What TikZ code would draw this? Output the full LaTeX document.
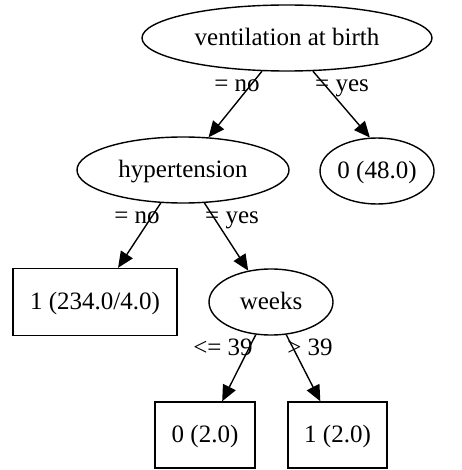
\documentclass[tikz,border=0pt]{standalone}
\usepackage{fontspec}
\setmainfont{Liberation Serif}
\usetikzlibrary{shapes.geometric,arrows.meta}
\begin{document}
\begin{tikzpicture}[x=1pt,y=-1pt,
  every node/.style={font=\fontsize{25}{30}\selectfont, text height=19pt, text depth=4pt, inner sep=0pt},
  ell/.style={draw, ellipse, line width=1.4pt},
  leaf/.style={draw, rectangle, line width=1.4pt},
  lbl/.style={},
  edge/.style={line width=1.4pt, -{Triangle[length=16pt,width=14pt]}}]
\useasboundingbox (0,0) rectangle (461,470);
\node[ell, minimum width=290pt, minimum height=66pt] (root) at (287,38) {ventilation at birth};
\node[ell, minimum width=212pt, minimum height=66pt] (hyp) at (183,170) {hypertension};
\node[ell, minimum width=114pt, minimum height=66pt] (z48) at (377,171) {0 (48.0)};
\node[leaf, minimum width=164pt, minimum height=67pt] (b1) at (95,302) {1 (234.0/4.0)};
\node[ell, minimum width=124pt, minimum height=66pt] (weeks) at (271,302) {weeks};
\node[leaf, minimum width=100pt, minimum height=66pt] (b0a) at (205,435) {0 (2.0)};
\node[leaf, minimum width=99pt, minimum height=66pt] (b1a) at (337.5,435) {1 (2.0)};
\draw[edge] (root.-127) -- (hyp.52);
\draw[edge] (root.-52) -- (z48.102);
\draw[edge] (hyp.-124) -- (b1.56);
\draw[edge] (hyp.-57) -- (weeks.126);
\draw[edge] (weeks.-115) -- (b0a.63);
\draw[edge] (weeks.-65) -- (b1a.117);
\node[lbl] (l1) at (237,84.5) {= no};
\node[lbl] (l2) at (342,84.5) {= yes};
\node[lbl] (l3) at (137,215.5) {= no};
\node[lbl] (l4) at (232,215.5) {= yes};
\node[lbl] (l5) at (223,347.5) {<= 39};
\node[lbl] (l6) at (310,347.5) {> 39};
\end{tikzpicture}
\end{document}
